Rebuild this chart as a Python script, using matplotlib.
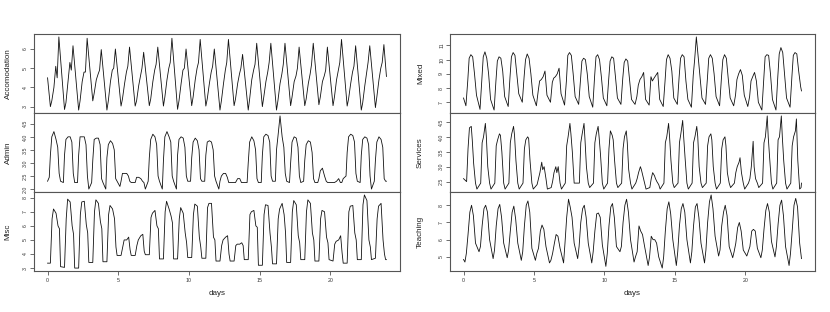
import matplotlib
matplotlib.use("Agg")
import matplotlib.pyplot as plt

plt.rcParams['font.family'] = ['Liberation Sans', 'DejaVu Sans']

# ---------------- data ----------------
days_ticks = [0, 5, 10, 15, 20]

# Accomodation: values per day at day-fractions acc_knots
acc_knots = [0.2, 0.3, 0.45, 0.58, 0.68, 0.8]
acc_days = [
    [3.0, 3.3, 4.0, 5.1, 4.5, 6.63], [2.85, 3.2, 4.3, 5.3, 4.9, 6.17],
    [2.82, 3.3, 4.3, 4.8, 4.8, 6.56], [3.3, 3.7, 4.4, 4.7, 4.9, 5.97],
    [2.82, 3.3, 4.3, 4.9, 5.0, 6.0], [3.03, 3.4, 4.2, 4.8, 5.1, 6.1],
    [3.03, 3.3, 4.1, 4.6, 5.0, 5.83], [3.05, 3.4, 4.3, 4.9, 5.2, 6.1],
    [3.03, 3.5, 4.4, 5.0, 5.3, 6.56], [2.86, 3.3, 4.2, 4.9, 5.0, 6.0],
    [3.05, 3.5, 4.4, 5.0, 5.3, 6.5], [3.03, 3.4, 4.2, 4.8, 5.1, 6.0],
    [2.82, 3.3, 4.2, 4.9, 5.3, 6.5], [3.05, 3.4, 4.2, 4.7, 5.0, 5.72],
    [2.82, 3.4, 4.4, 4.9, 5.2, 6.3], [3.0, 3.5, 4.3, 4.8, 5.3, 6.3],
    [2.82, 3.3, 4.2, 4.7, 5.2, 6.3], [3.05, 3.5, 4.3, 4.6, 5.0, 6.1],
    [3.05, 3.4, 4.2, 4.7, 5.2, 6.3], [3.1, 3.5, 4.3, 4.6, 4.9, 6.1],
    [3.05, 3.5, 4.4, 4.9, 5.3, 6.5], [3.03, 3.4, 4.2, 4.8, 5.1, 6.17],
    [2.82, 3.2, 4.1, 4.8, 5.3, 6.17], [2.95, 3.5, 4.4, 5.0, 5.3, 6.23],
]
acc_ends = [4.5, 4.57]
acc_ticks = [3, 4, 5, 6]

admin_knots = [0.12, 0.2, 0.3, 0.45, 0.6, 0.72, 0.82, 0.92]
admin_days = [
    [2.45, 3.3, 4.0, 4.2, 3.9, 3.6, 2.6, 2.3], [2.25, 3.3, 3.9, 4.0, 4.0, 3.8, 2.6, 2.25],
    [2.25, 3.3, 4.0, 4.0, 4.0, 3.7, 2.5, 2.0], [2.25, 3.1, 3.9, 3.95, 3.95, 3.7, 2.4, 2.25],
    [2.0, 3.2, 3.7, 3.85, 3.75, 3.5, 2.4, 2.3], [2.1, 2.3, 2.6, 2.6, 2.6, 2.5, 2.3, 2.25],
    [2.25, 2.25, 2.45, 2.45, 2.4, 2.3, 2.25, 2.0], [2.3, 3.2, 3.9, 4.1, 4.0, 3.7, 2.5, 2.3],
    [2.0, 3.1, 4.0, 4.2, 4.0, 3.8, 2.5, 2.3], [2.0, 3.3, 3.9, 4.0, 3.95, 3.6, 2.5, 2.3],
    [2.3, 3.2, 3.8, 3.95, 3.85, 3.5, 2.4, 2.3], [2.3, 3.3, 3.8, 3.85, 3.8, 3.5, 2.5, 2.3],
    [2.0, 2.3, 2.5, 2.6, 2.6, 2.45, 2.25, 2.25], [2.25, 2.25, 2.25, 2.4, 2.4, 2.25, 2.25, 2.25],
    [2.25, 3.0, 3.8, 4.0, 3.85, 3.5, 2.4, 2.25], [2.25, 3.3, 4.0, 4.1, 4.05, 3.8, 2.5, 2.3],
    [2.3, 3.5, 4.0, 4.8, 4.0, 3.6, 2.6, 2.3], [2.25, 3.0, 3.8, 4.0, 3.95, 3.6, 2.5, 2.25],
    [2.3, 3.1, 3.7, 3.85, 3.8, 3.4, 2.4, 2.25], [2.25, 2.4, 2.7, 2.8, 2.5, 2.3, 2.25, 2.25],
    [2.25, 2.25, 2.25, 2.3, 2.4, 2.25, 2.25, 2.4], [2.5, 3.4, 4.0, 4.1, 4.05, 3.8, 2.6, 2.3],
    [2.25, 3.3, 3.9, 4.0, 3.95, 3.7, 2.5, 2.0], [2.3, 3.1, 3.8, 4.0, 3.9, 3.6, 2.4, 2.3],
]
admin_ends = [2.3, 2.3]
admin_ticks = [2.0, 2.5, 3.0, 3.5, 4.0, 4.5]

misc_knots = [0.2, 0.32, 0.42, 0.6, 0.74, 0.84, 0.92]
misc_days = [
    [3.35, 6.5, 7.2, 6.9, 6.0, 5.8, 3.1], [3.05, 6.5, 7.9, 7.7, 6.0, 5.4, 3.0],
    [3.0, 6.8, 7.7, 7.75, 6.1, 5.5, 3.4], [3.4, 7.0, 7.85, 7.6, 6.3, 5.8, 3.45],
    [3.45, 6.8, 7.45, 7.2, 6.5, 4.5, 3.9], [3.9, 4.5, 5.0, 5.0, 5.2, 4.3, 3.9],
    [3.9, 4.6, 5.0, 5.3, 5.4, 4.2, 3.95], [3.95, 6.6, 6.9, 7.1, 6.0, 5.8, 3.65],
    [3.65, 7.0, 7.75, 7.2, 6.7, 6.2, 3.65], [3.65, 6.5, 7.3, 6.9, 5.5, 4.8, 3.75],
    [3.75, 6.8, 7.55, 7.4, 5.2, 4.5, 3.7], [3.7, 7.3, 7.6, 7.6, 5.2, 5.0, 3.5],
    [3.5, 4.6, 5.0, 5.2, 5.3, 4.0, 3.5], [3.5, 4.6, 4.7, 4.7, 4.8, 4.6, 3.6],
    [3.6, 6.8, 7.0, 7.1, 6.0, 5.9, 3.2], [3.2, 6.8, 7.5, 7.45, 5.5, 4.5, 3.3],
    [3.3, 6.5, 7.2, 7.6, 6.8, 5.5, 3.4], [3.4, 7.0, 7.8, 7.5, 5.3, 4.8, 3.6],
    [3.6, 7.0, 7.85, 7.6, 5.5, 5.0, 3.5], [3.5, 6.5, 7.1, 7.0, 5.2, 4.8, 3.6],
    [3.5, 4.7, 4.9, 5.0, 5.3, 4.1, 3.35], [3.35, 7.0, 7.4, 7.45, 5.5, 5.0, 3.6],
    [3.6, 7.5, 8.2, 7.8, 5.0, 4.5, 3.6], [3.7, 6.5, 7.4, 7.6, 5.0, 4.0, 3.6],
]
misc_ends = [3.35, 3.6]
misc_ticks = [3, 4, 5, 6, 7, 8]

mixed_knots = [0.17, 0.3, 0.4, 0.52, 0.65, 0.78, 0.92]
mixed_days = [
    [6.75, 8.5, 10.1, 10.35, 10.2, 9.0, 7.5], [6.5, 8.6, 10.2, 10.55, 10.1, 9.0, 7.2],
    [6.45, 8.5, 9.9, 10.2, 10.1, 9.2, 7.4], [6.7, 8.8, 10.2, 10.5, 10.3, 9.0, 7.6],
    [7.0, 8.8, 10.0, 10.4, 10.1, 9.0, 7.5], [6.75, 7.8, 8.5, 8.6, 8.8, 9.2, 7.5],
    [7.0, 8.4, 8.7, 8.8, 9.0, 9.4, 7.6], [6.8, 8.5, 10.3, 10.5, 10.3, 9.0, 7.4],
    [6.85, 8.6, 9.9, 10.1, 10.0, 9.0, 7.4], [6.65, 8.8, 10.2, 10.35, 10.0, 8.8, 7.3],
    [6.75, 8.6, 9.9, 10.2, 10.1, 8.8, 7.3], [6.85, 8.7, 9.8, 10.05, 9.9, 8.6, 7.2],
    [6.85, 7.4, 8.2, 8.6, 8.8, 9.1, 7.2], [6.8, 8.8, 8.5, 8.7, 8.9, 9.1, 7.2],
    [6.7, 8.5, 10.0, 10.35, 10.1, 9.2, 7.3], [6.85, 8.8, 10.1, 10.35, 10.2, 8.5, 7.2],
    [6.65, 8.9, 10.0, 11.6, 10.2, 8.8, 7.3], [6.85, 8.6, 10.1, 10.35, 10.1, 9.0, 7.4],
    [6.75, 8.7, 10.0, 10.35, 10.1, 8.7, 7.3], [6.75, 7.5, 8.6, 9.0, 9.3, 8.9, 7.5],
    [6.7, 7.4, 8.5, 8.8, 9.1, 8.5, 7.0], [6.45, 8.5, 10.2, 10.35, 10.3, 9.0, 7.2],
    [6.45, 8.8, 10.4, 10.85, 10.5, 9.0, 7.3], [6.65, 8.8, 10.3, 10.5, 10.4, 9.2, 8.1],
]
mixed_ends = [7.3, 7.8]
mixed_ticks = [7, 8, 9, 10, 11]

serv_knots = [0.22, 0.32, 0.42, 0.55, 0.62, 0.72, 0.85, 0.95]
serv_days = [
    [2.5, 3.6, 4.3, 4.35, 3.9, 3.1, 2.45, 2.25], [2.45, 3.8, 4.0, 4.45, 4.0, 3.0, 2.45, 2.25],
    [2.45, 3.7, 3.9, 4.1, 4.05, 3.5, 2.45, 2.25], [2.45, 3.8, 4.1, 4.35, 4.05, 3.2, 2.45, 2.25],
    [2.45, 3.6, 3.9, 4.0, 3.95, 3.2, 2.45, 2.25], [2.4, 2.6, 2.8, 3.15, 2.9, 3.0, 2.6, 2.25],
    [2.3, 2.5, 2.8, 3.0, 2.8, 3.0, 2.45, 2.25], [2.45, 3.7, 4.0, 4.45, 4.1, 3.5, 2.45, 2.45],
    [2.45, 3.8, 4.1, 4.45, 3.9, 3.0, 2.45, 2.3], [2.45, 3.8, 4.1, 4.35, 4.0, 3.4, 2.45, 2.25],
    [2.45, 3.6, 4.2, 4.05, 3.9, 3.2, 2.45, 2.3], [2.45, 3.6, 4.0, 4.2, 3.8, 2.9, 2.45, 2.25],
    [2.45, 2.6, 2.8, 3.0, 2.9, 2.7, 2.45, 2.25], [2.3, 2.6, 2.8, 2.7, 2.6, 2.5, 2.4, 2.25],
    [2.45, 3.8, 4.0, 4.45, 4.0, 3.2, 2.45, 2.3], [2.45, 3.8, 4.1, 4.55, 4.0, 3.3, 2.45, 2.25],
    [2.45, 3.8, 4.0, 4.35, 4.0, 3.0, 2.45, 2.3], [2.45, 3.7, 4.0, 4.1, 3.9, 3.0, 2.45, 2.25],
    [2.45, 3.6, 3.9, 4.0, 3.7, 2.8, 2.45, 2.3], [2.45, 2.8, 3.0, 3.15, 3.3, 2.8, 2.45, 2.25],
    [2.45, 2.6, 3.0, 3.85, 3.0, 2.6, 2.45, 2.3], [2.45, 3.8, 4.0, 4.7, 4.0, 3.3, 2.45, 2.25],
    [2.45, 3.9, 4.0, 4.7, 4.0, 3.2, 2.45, 2.25], [2.45, 3.7, 4.0, 4.2, 4.6, 3.2, 2.25, 2.3],
]
serv_ends = [2.6, 2.45]
serv_ticks = [2.5, 3.0, 3.5, 4.0, 4.5]

teach_knots = [0.1, 0.2, 0.32, 0.45, 0.57, 0.7, 0.85]
teach_days = [
    [4.7, 5.2, 6.3, 7.6, 8.0, 7.4, 5.8], [5.3, 5.6, 6.8, 7.8, 8.0, 7.6, 6.0],
    [4.9, 5.4, 6.8, 7.8, 8.05, 7.3, 5.8], [4.95, 5.4, 6.5, 7.6, 7.95, 7.2, 5.8],
    [4.8, 5.3, 6.8, 8.0, 8.25, 7.6, 5.5], [4.8, 5.2, 5.5, 6.5, 6.85, 6.6, 5.6],
    [4.65, 4.8, 5.2, 5.8, 6.3, 6.2, 5.5], [4.65, 5.8, 7.3, 8.35, 7.9, 7.3, 5.8],
    [4.9, 5.6, 7.0, 7.8, 8.0, 7.3, 5.8], [4.65, 5.3, 6.5, 7.5, 7.55, 7.3, 5.7],
    [4.45, 5.2, 6.8, 7.9, 8.1, 7.3, 5.6], [5.3, 5.6, 7.0, 8.0, 8.35, 7.6, 6.0],
    [4.7, 5.0, 5.3, 6.8, 6.5, 6.3, 5.6], [4.5, 5.0, 6.2, 6.0, 6.0, 5.8, 5.0],
    [4.35, 5.0, 6.5, 7.8, 8.2, 7.5, 6.0], [4.5, 5.3, 6.8, 7.8, 8.1, 7.6, 6.0],
    [4.65, 5.3, 6.8, 7.9, 8.1, 7.3, 5.8], [4.65, 5.4, 7.0, 8.2, 8.6, 7.8, 6.2],
    [5.05, 5.4, 6.8, 7.6, 8.0, 7.4, 5.6], [4.95, 5.3, 5.8, 6.7, 7.0, 6.5, 5.4],
    [5.05, 5.3, 5.6, 6.5, 6.6, 6.5, 5.5], [4.95, 5.4, 6.6, 7.7, 8.1, 7.6, 5.9],
    [5.0, 5.6, 6.9, 8.0, 8.3, 7.4, 5.6], [4.5, 5.2, 6.5, 8.0, 8.4, 7.9, 5.8],
]
teach_ends = [4.85, 4.9]
teach_ticks = [5, 6, 7, 8]

series_left = [("Accomodation", acc_knots, acc_days, acc_ends, acc_ticks),
               ("Admin", admin_knots, admin_days, admin_ends, admin_ticks),
               ("Misc", misc_knots, misc_days, misc_ends, misc_ticks)]
series_right = [("Mixed", mixed_knots, mixed_days, mixed_ends, mixed_ticks),
                ("Services", serv_knots, serv_days, serv_ends, serv_ticks),
                ("Teaching", teach_knots, teach_days, teach_ends, teach_ticks)]
T_END = 23.98


def build(knots, rows, ends):
    t, v = [0.0], [ends[0]]
    for d, row in enumerate(rows):
        for f, val in zip(knots, row):
            t.append(d + f)
            v.append(val)
    t.append(T_END)
    v.append(ends[1])
    return t, v


# ---------------- figure ----------------
W, H = 830, 312
fig = plt.figure(figsize=(W / 100, H / 100), dpi=100)

tick_fs = 3.8
lab_fs = 5.8
frame_c = '#555555'


def fx(px):
    return px / W


def fy(py):
    return 1 - py / H


tops = [34, 113, 192]
ph = 79
for col, (x0, x1, series, ylab_off) in enumerate([(34, 400, series_left, 22.5),
                                                   (450, 815, series_right, 26)]):
    for i, (name, knots, rows, ends, ticks) in enumerate(series):
        top = tops[i]
        ax = fig.add_axes([fx(x0), fy(top + ph), (x1 - x0) / W, ph / H])
        t, v = build(knots, rows, ends)
        ax.plot(t, v, color='#111111', lw=0.6)
        lo, hi = min(v), max(v)
        pad = 0.04 * (hi - lo)
        ax.set_ylim(lo - pad, hi + pad)
        ax.set_xlim(-0.04 * T_END, T_END * 1.04)
        ax.set_yticks(ticks)
        ax.set_yticklabels([("%.1f" % x) if isinstance(x, float) else str(x) for x in ticks])
        ax.tick_params(axis='y', labelsize=tick_fs, length=3, width=0.5, pad=1.2,
                       colors='#333333', rotation=90)
        for lbl in ax.get_yticklabels():
            lbl.set_va('center')
        for s in ax.spines.values():
            s.set_color(frame_c)
            s.set_linewidth(0.8)
        ax.set_ylabel(name, fontsize=lab_fs, color='#222222')
        ax.yaxis.set_label_coords(-ylab_off / (x1 - x0), 0.5)
        if i == 2:
            ax.set_xticks(days_ticks)
            ax.tick_params(axis='x', labelsize=tick_fs, length=3, width=0.5, pad=2.2,
                           colors='#333333')
            ax.set_xlabel('days', fontsize=lab_fs, color='#222222', labelpad=5)
        else:
            ax.set_xticks([])

fig.savefig('out.png', dpi=100)
